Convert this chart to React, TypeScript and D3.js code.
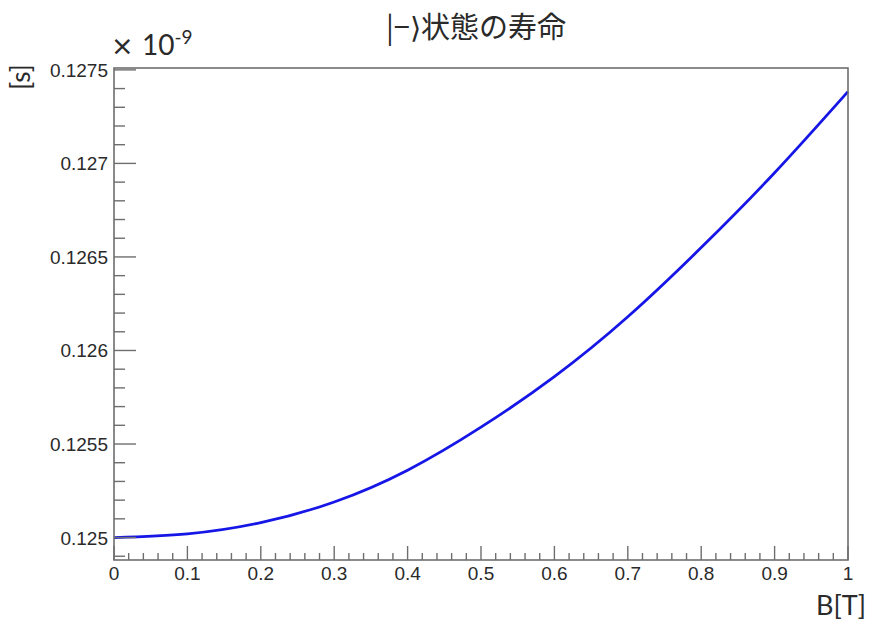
import React from "react";
import * as d3 from "d3";

// Data (lifetime in units of 1e-9 s)
const bField = [0, 0.1, 0.2, 0.3, 0.4, 0.5, 0.6, 0.7, 0.8, 0.9, 1.0];
const lifetime = [0.125, 0.12502, 0.12508, 0.12519, 0.12536, 0.12559, 0.12586, 0.12618, 0.12655, 0.12695, 0.127384];
const yTickLabels = ["0.125", "0.1255", "0.126", "0.1265", "0.127", "0.1275"];
const xTickLabels = ["0", "0.1", "0.2", "0.3", "0.4", "0.5", "0.6", "0.7", "0.8", "0.9", "1"];
const titleText = "|−⟩状態の寿命";
const xAxisTitle = "B[T]";
const yAxisTitle = "[s]";

const W = 870;
const H = 624;
const left = 114, right = 848, top = 68, bottom = 560;

export default function App() {
  const x = d3.scaleLinear().domain([0, 1]).range([left, right]);
  const y = d3.scaleLinear().domain([0.12488, 0.12751]).range([bottom, top]);

  const line = d3
    .line<number>()
    .x((_, i) => x(bField[i]))
    .y((d) => y(d))
    .curve(d3.curveNatural);

  const axisColor = "#6e6e6e";
  const textColor = "#2a2a2a";

  const xMinor = d3.range(0, 51).map((i) => i * 0.02);
  const yMinor = d3.range(0, 27).map((i) => 0.1249 + i * 0.0001);

  return (
    <svg
      width={W}
      height={H}
      style={{ position: "absolute", left: 0, top: 0, background: "#fff" }}
      xmlns="http://www.w3.org/2000/svg"
    >
      <rect x={0} y={0} width={W} height={H} fill="#fff" />
      {/* Curve */}
      <path d={line(lifetime) || ""} fill="none" stroke="#1616e6" strokeWidth={2.8} />

      {/* Frame */}
      <rect x={left} y={top} width={right - left} height={bottom - top} fill="none" stroke={axisColor} strokeWidth={1.6} />

      {/* X ticks */}
      {xMinor.map((v, i) => {
        const major = i % 5 === 0;
        return (
          <line key={"xm" + i} x1={x(v)} x2={x(v)} y1={bottom} y2={bottom - (major ? 14 : 7)} stroke={axisColor} strokeWidth={1.4} />
        );
      })}
      {xTickLabels.map((t, i) => (
        <text key={"xl" + i} x={x(bField[i])} y={579.5} textAnchor="middle" fontFamily="'Liberation Sans', Arial, sans-serif" fontSize={19} fill={textColor}>
          {t}
        </text>
      ))}

      {/* Y ticks */}
      {yMinor.map((v, i) => {
        const major = (i - 1) % 5 === 0;
        if (y(v) > bottom + 0.5 || y(v) < top - 0.5) return null;
        return (
          <line key={"ym" + i} x1={left} x2={left + (major ? 22 : 11)} y1={y(v)} y2={y(v)} stroke={axisColor} strokeWidth={1.4} />
        );
      })}
      {yTickLabels.map((t, i) => (
        <text key={"yl" + i} x={108} y={y(+t) + 7} textAnchor="end" fontFamily="'Liberation Sans', Arial, sans-serif" fontSize={19} fill={textColor}>
          {t}
        </text>
      ))}

      {/* Exponent */}
      <text x={111} y={55} fontFamily="'DejaVu Sans', sans-serif" fontSize={27} fill={textColor}>
        ×
      </text>
      <text x={142} y={55} fontFamily="Lato, 'Open Sans', sans-serif" fontSize={28} fill={textColor}>
        10
        <tspan dy={-11} fontSize={19}>-9</tspan>
      </text>

      {/* Title */}
      <text x={386} y={38} fontFamily="'Noto Sans CJK JP', sans-serif" fontSize={29} fill={textColor}>
        {titleText}
      </text>

      {/* Axis titles */}
      <text x={866} y={615} textAnchor="end" fontFamily="Lato, 'Open Sans', sans-serif" fontSize={27} fill={textColor}>
        {xAxisTitle}
      </text>
      <text transform="translate(30,77) rotate(-90)" textAnchor="middle" fontFamily="Lato, 'Open Sans', sans-serif" fontSize={26} fill={textColor}>
        {yAxisTitle}
      </text>
    </svg>
  );
}
